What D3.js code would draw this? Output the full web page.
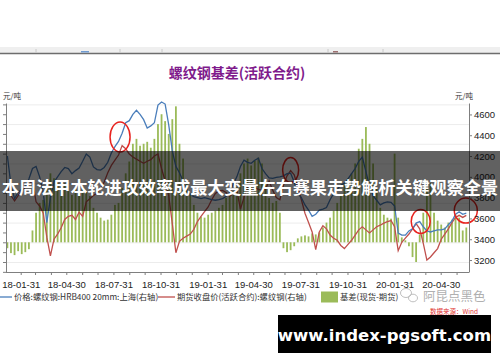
<!DOCTYPE html>
<html>
<head>
<meta charset="utf-8">
<script src="https://cdn.jsdelivr.net/npm/d3@7"></script>
<style>
  body { margin:0; background:#fff; }
  svg { display:block; font-family:"Liberation Sans","Noto Sans CJK SC",sans-serif; }
</style>
</head>
<body>
<svg width="500" height="362"></svg>
<script>
// weekly categories (fridays)
var weekFirst = "2018-01-05";
var weekLast = "2020-06-19";

// spot price HRB400 20mm shanghai (right axis)
var spot = [
  4200,3920,3790,3850,3880,3900,3980,4080,4100,4000,
  3850,3560,3800,3950,4000,4050,4090,4080,4030,4060,
  4085,4150,4220,4190,4095,4070,4065,4090,4140,4230,
  4290,4340,4420,4520,4540,4600,4640,4600,4550,4470,
  4490,4520,4690,4720,4700,4500,4250,4100,4040,3960,
  3880,3830,3810,3800,3790,3800,3790,3780,3775,3780,
  3790,3810,3850,3930,4000,4100,4160,4140,4130,4160,
  4180,4080,4030,3990,3985,3995,4000,4010,4030,4035,
  3950,3840,3800,3730,3680,3620,3640,3680,3690,3705,
  3780,3840,3880,3920,3940,3980,4030,4080,4150,4190,
  4050,3910,3820,3775,3730,3750,3760,3755,3720,3460,
  3440,3440,3480,3500,3555,3570,3520,3480,3470,3480,
  3490,3490,3500,3540,3575,3640,3665,3640,3650
];

// futures close, active contract (right axis)
var futures = [
  3910,3820,3770,3820,3870,3900,3930,3960,3760,3720,
  3650,3420,3240,3400,3450,3510,3590,3620,3630,3590,
  3660,3620,3760,3790,3820,3845,3890,3950,4040,4110,
  4160,4210,4300,4270,4220,4190,4170,4150,4130,4150,
  4165,4200,4220,4080,3960,3820,3550,3270,3380,3410,
  3430,3450,3495,3570,3620,3665,3710,3780,3840,3865,
  3870,3850,3815,3840,3870,3690,3800,3910,3935,3900,
  3880,3870,3880,3960,3870,3800,3780,3920,4010,4060,
  4020,3900,3780,3650,3560,3470,3300,3470,3530,3500,
  3440,3410,3390,3340,3310,3350,3390,3440,3490,3520,
  3490,3460,3490,3520,3535,3555,3570,3580,3520,3290,
  3370,3410,3450,3500,3550,3500,3360,3200,3230,3270,
  3310,3400,3450,3500,3560,3610,3630,3610,3630
];

// basis spot - futures (left axis)
var basis = [
  -60,-110,-130,-90,-120,-100,-70,120,300,400,
  430,600,700,650,600,560,600,520,480,540,
  480,560,520,470,350,300,250,220,230,280,
  380,400,550,700,820,1000,1050,980,1000,1020,
  960,1050,1200,1300,1230,1100,1250,1380,1000,850,
  600,500,380,300,260,250,280,300,320,350,
  380,450,500,520,560,700,800,850,780,830,
  860,800,600,450,400,420,300,-60,-100,-80,
  -40,40,60,70,60,90,80,100,150,200,
  250,320,400,480,600,650,700,800,950,1050,
  1170,1000,800,550,350,280,250,240,900,250,
  50,20,-40,-150,-200,80,300,550,600,300,
  220,180,150,200,230,280,250,120,150
];

var xLabelDates = ["2018-01-31","2018-04-30","2018-07-31","2018-10-31","2019-01-31",
                   "2019-04-30","2019-07-31","2019-10-31","2020-01-31","2020-04-30"];
var rightTicks = [3200,3400,3600,3800,4000,4200,4400,4600];

// red circles drawn on the chart: date, price
var markDates = ["2018-08-13","2019-07-12","2020-03-22","2020-06-18"];
var markValues = [4383,4065,3570,3676];

var legendNames = ["价格:螺纹钢:HRB400 20mm:上海(右轴)","期货收盘价(活跃合约):螺纹钢(右轴)","基差(现货-期货)"];

var parse = d3.timeParse("%Y-%m-%d");
var svg = d3.select("svg");

var plot = {left:6, right:469, top:103, bottom:272};

var xScale = d3.scaleTime()
  .domain([parse("2018-01-31"), parse("2020-04-30")])
  .range([20.7, 440.7]);
var yRight = d3.scaleLinear().domain([3085, 4710]).range([plot.bottom, plot.top]);
var yLeft = d3.scaleLinear().domain([-301.5, 1414]).range([plot.bottom, plot.top]);

var weeks = d3.timeFriday.range(parse(weekFirst), d3.timeDay.offset(parse(weekLast), 1));

// toolbar strip on top
svg.append("rect").attr("x",0).attr("y",47).attr("width",500).attr("height",6).attr("fill","#efefef");
svg.append("line").attr("x1",0).attr("x2",500).attr("y1",53.5).attr("y2",53.5)
  .attr("stroke","#6d6d6d").attr("stroke-width",1.3);
[36,120,162,328,383].forEach(function(sx){
  svg.append("line").attr("x1",sx).attr("x2",sx).attr("y1",49).attr("y2",53)
    .attr("stroke","#c8c8c8");
});
svg.append("rect").attr("x",81).attr("y",51).attr("width",8).attr("height",1.5).attr("fill","#6f9ad0");
svg.append("rect").attr("x",333).attr("y",51).attr("width",5).attr("height",1.5).attr("fill","#9c7070");

// title
svg.append("text").attr("x",237).attr("y",78).attr("text-anchor","middle")
  .attr("font-family","'Noto Sans CJK SC'").attr("font-weight","bold")
  .attr("font-size",14).attr("fill","#7f1b8c").text("螺纹钢基差(活跃合约)");

svg.append("text").attr("x",3).attr("y",99).attr("font-size",7.5)
  .attr("font-family","'Noto Sans CJK SC'").attr("fill","#333").text("元/吨");
svg.append("text").attr("x",455).attr("y",99).attr("font-size",7.5)
  .attr("font-family","'Noto Sans CJK SC'").attr("fill","#333").text("元/吨");

// gridlines from left axis
svg.append("g").selectAll("line")
  .data(d3.range(-200, 1500, 200))
  .enter().append("line")
  .attr("x1",plot.left).attr("x2",plot.right)
  .attr("y1",function(d){return yLeft(d)+0.5;})
  .attr("y2",function(d){return yLeft(d)+0.5;})
  .attr("stroke","#ececec");

svg.append("clipPath").attr("id","clip").append("rect")
  .attr("x",plot.left).attr("y",plot.top-5)
  .attr("width",plot.right-plot.left).attr("height",plot.bottom-plot.top+5);

var chart = svg.append("g").attr("clip-path","url(#clip)");

// basis bars
chart.append("g").selectAll("rect")
  .data(basis)
  .enter().append("rect")
  .attr("x",function(d,i){return xScale(weeks[i])-0.9;})
  .attr("width",1.8)
  .attr("y",function(d){return Math.min(yLeft(d), yLeft(0));})
  .attr("height",function(d){return Math.abs(yLeft(d)-yLeft(0));})
  .attr("fill","#9bbb59");

var lineRight = d3.line()
  .x(function(d,i){return xScale(weeks[i]);})
  .y(function(d){return yRight(d);});

chart.append("path").datum(futures).attr("d",lineRight)
  .attr("fill","none").attr("stroke","#c0504d").attr("stroke-width",1.3);
chart.append("path").datum(spot).attr("d",lineRight)
  .attr("fill","none").attr("stroke","#4a7ebb").attr("stroke-width",1.3);

// red circles
svg.append("g").selectAll("ellipse")
  .data(markDates)
  .enter().append("ellipse")
  .attr("cx",function(d){return xScale(parse(d));})
  .attr("cy",function(d,i){return yRight(markValues[i]);})
  .attr("rx",function(d,i){return [10,8,9.5,11.5][i];})
  .attr("ry",function(d,i){return [15,12.5,12,12.5][i];})
  .attr("fill","none").attr("stroke","#e8231f").attr("stroke-width",1.5);

// axes
var monthTicks = d3.timeMonth.range(parse("2018-02-01"), parse("2020-06-02"))
  .map(function(d){return d3.timeDay.offset(d,-1);});
var labelSet = xLabelDates.map(function(d){return +parse(d);});
var fmt = d3.timeFormat("%y-%m-%d");

var xAxis = svg.append("g")
  .attr("transform","translate(0,"+plot.bottom+")")
  .call(d3.axisBottom(xScale).tickValues(monthTicks).tickSize(3)
    .tickFormat(function(d){return labelSet.indexOf(+d)>=0 ? fmt(d) : "";}));
xAxis.select(".domain").attr("d","M"+plot.left+",0.5H"+plot.right);

// left axis labels sit outside the picture, so only the ticks show
var leftAxis = svg.append("g")
  .attr("transform","translate("+plot.left+",0)")
  .call(d3.axisLeft(yLeft).tickValues(d3.range(-300,1500,100)).tickSize(3)
    .tickSizeOuter(0).tickFormat(""));

var rightAxis = svg.append("g")
  .attr("transform","translate("+plot.right+",0)")
  .call(d3.axisRight(yRight).tickValues(rightTicks).tickSize(3).tickSizeOuter(0)
    .tickFormat(d3.format("d")));

[xAxis,leftAxis,rightAxis].forEach(function(a){
  a.select(".domain").attr("stroke","#7f7f7f");
  a.selectAll(".tick line").attr("stroke","#7f7f7f");
  a.selectAll("text").attr("fill","#222").attr("font-size",9.5)
    .attr("font-family","'Liberation Sans'");
});
xAxis.selectAll("text").attr("dy","1.0em");
rightAxis.selectAll("text").attr("x",5);

// legend
var legendY = 297;
svg.append("line").attr("x1",0).attr("x2",12).attr("y1",legendY).attr("y2",legendY)
  .attr("stroke","#4a7ebb").attr("stroke-width",1.3);
svg.append("line").attr("x1",158).attr("x2",175).attr("y1",legendY).attr("y2",legendY)
  .attr("stroke","#c0504d").attr("stroke-width",1.3);
svg.append("rect").attr("x",321).attr("y",291.5).attr("width",17).attr("height",11)
  .attr("fill","#9bbb59");
[14,177,340].forEach(function(lx,i){
  svg.append("text").attr("x",lx).attr("y",legendY+3).attr("font-size",8.3)
    .attr("font-family","'Noto Sans CJK SC'").attr("fill","#333").text(legendNames[i]);
});

// wechat watermark
var wm = svg.append("g").attr("fill","none").attr("stroke","#b8b8b8").attr("stroke-width",0.9);
wm.append("ellipse").attr("cx",406).attr("cy",293).attr("rx",5.5).attr("ry",4.5);
wm.append("ellipse").attr("cx",413).attr("cy",298).attr("rx",4.5).attr("ry",3.8);
svg.append("text").attr("x",423).attr("y",301).attr("font-size",12.5)
  .attr("font-family","'Noto Sans CJK SC'").attr("fill","#b0b0b0").text("阿昆点黑色");

// source note (half hidden by the box)
svg.append("text").attr("x",430).attr("y",314).attr("font-size",6.5)
  .attr("font-family","'Noto Sans CJK SC'").attr("fill","#e03030").text("数据来源：Wind");

// dark banner with headline
svg.append("rect").attr("x",0).attr("y",151).attr("width",500).attr("height",60)
  .attr("fill","rgba(0,0,0,0.62)");
svg.append("text").attr("x",2).attr("y",193.5)
  .attr("textLength",496).attr("lengthAdjust","spacingAndGlyphs")
  .attr("font-family","'Noto Sans CJK SC'").attr("font-weight","bold")
  .attr("font-size",17.5).attr("fill","#fff")
  .text("本周法甲本轮进攻效率成最大变量左右赛果走势解析关键观察全景");

// site box
svg.append("rect").attr("x",278).attr("y",315).attr("width",213).attr("height",38).attr("fill","#000");
svg.append("text").attr("x",384.5).attr("y",340.5).attr("text-anchor","middle")
  .attr("font-family","'DejaVu Sans'").attr("font-weight","bold")
  .attr("font-size",16.5).attr("fill","#fff").text("www.index-pgsoft.com");
</script>
</body>
</html>
